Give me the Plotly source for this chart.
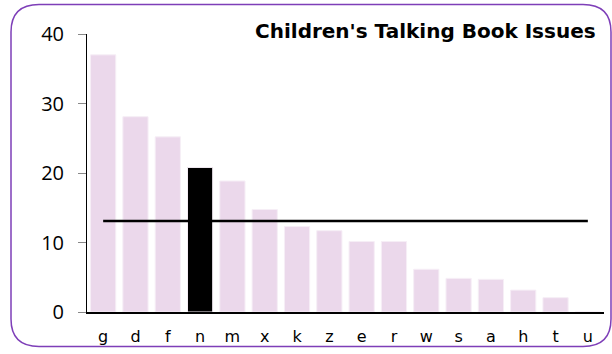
import plotly.graph_objects as go

categories = ["g", "d", "f", "n", "m", "x", "k", "z", "e", "r", "w", "s", "a", "h", "t", "u"]
values = [37.0, 28.1, 25.2, 20.8, 18.85, 14.75, 12.3, 11.7, 10.15, 10.15, 6.15, 4.84, 4.7, 3.15, 2.06, 0]
highlight = "n"
average = 13.1
title_text = "Children's Talking Book Issues"
y_ticks = [0, 10, 20, 30, 40]

W, H = 612, 354
ml, mr, mt, mb = 87, 8, 34, 37
pw, ph = W - ml - mr, H - mt - mb

bar_colors = ["#000000" if c == highlight else "#EBD8EB" for c in categories]

fig = go.Figure()
fig.add_trace(go.Bar(
    x=categories, y=values,
    marker=dict(color=bar_colors, line=dict(color="#F6EEF6", width=1)),
    hoverinfo="x+y",
))
fig.add_trace(go.Scatter(
    x=categories, y=[average] * len(categories),
    mode="lines", line=dict(color="#000000", width=2.5),
    hoverinfo="y",
))

# rounded border (pixel -> paper conversion)
def px(x):
    return (x - ml) / pw

def py(y):
    return (H - mb - y) / ph

L, T, R, B, r = 11, 4, 611, 352, 28
path = (
    f"M {px(L + r)},{py(T)} L {px(R - r)},{py(T)} Q {px(R)},{py(T)} {px(R)},{py(T + r)} "
    f"L {px(R)},{py(B - r)} Q {px(R)},{py(B)} {px(R - r)},{py(B)} "
    f"L {px(L + r)},{py(B)} Q {px(L)},{py(B)} {px(L)},{py(B - r)} "
    f"L {px(L)},{py(T + r)} Q {px(L)},{py(T)} {px(L + r)},{py(T)} Z"
)
fig.add_shape(type="path", path=path, xref="paper", yref="paper",
              line=dict(color="#7E3FB8", width=1.5), layer="below")

fig.add_annotation(text=f"<b>{title_text}</b>", xref="paper", yref="paper",
                   x=px(598), y=py(31), xanchor="right", yanchor="middle",
                   showarrow=False, font=dict(family="DejaVu Sans", size=20, color="#000000"))

fig.update_layout(
    width=W, height=H,
    margin=dict(l=ml, r=mr, t=mt, b=mb, pad=0),
    paper_bgcolor="#FFFFFF", plot_bgcolor="#FFFFFF",
    showlegend=False, bargap=0.22,
    xaxis=dict(range=[-0.5, 15.5], showline=True, linecolor="#000000", linewidth=1.5,
               ticks="", showgrid=False, zeroline=False,
               tickfont=dict(family="DejaVu Sans", size=16, color="#000000"),
               ticklabelstandoff=9),
    yaxis=dict(range=[0, 40], tickvals=y_ticks, showline=True, linecolor="#000000", linewidth=1,
               ticks="outside", ticklen=8, tickcolor="#888888", showgrid=False, zeroline=False,
               tickfont=dict(family="Open Sans", size=20, color="#000000"),
               ticklabelstandoff=10),
)

fig.write_html("out.html", config={"displayModeBar": False},
               post_script="document.body.style.margin='0';document.body.style.padding='0';")
